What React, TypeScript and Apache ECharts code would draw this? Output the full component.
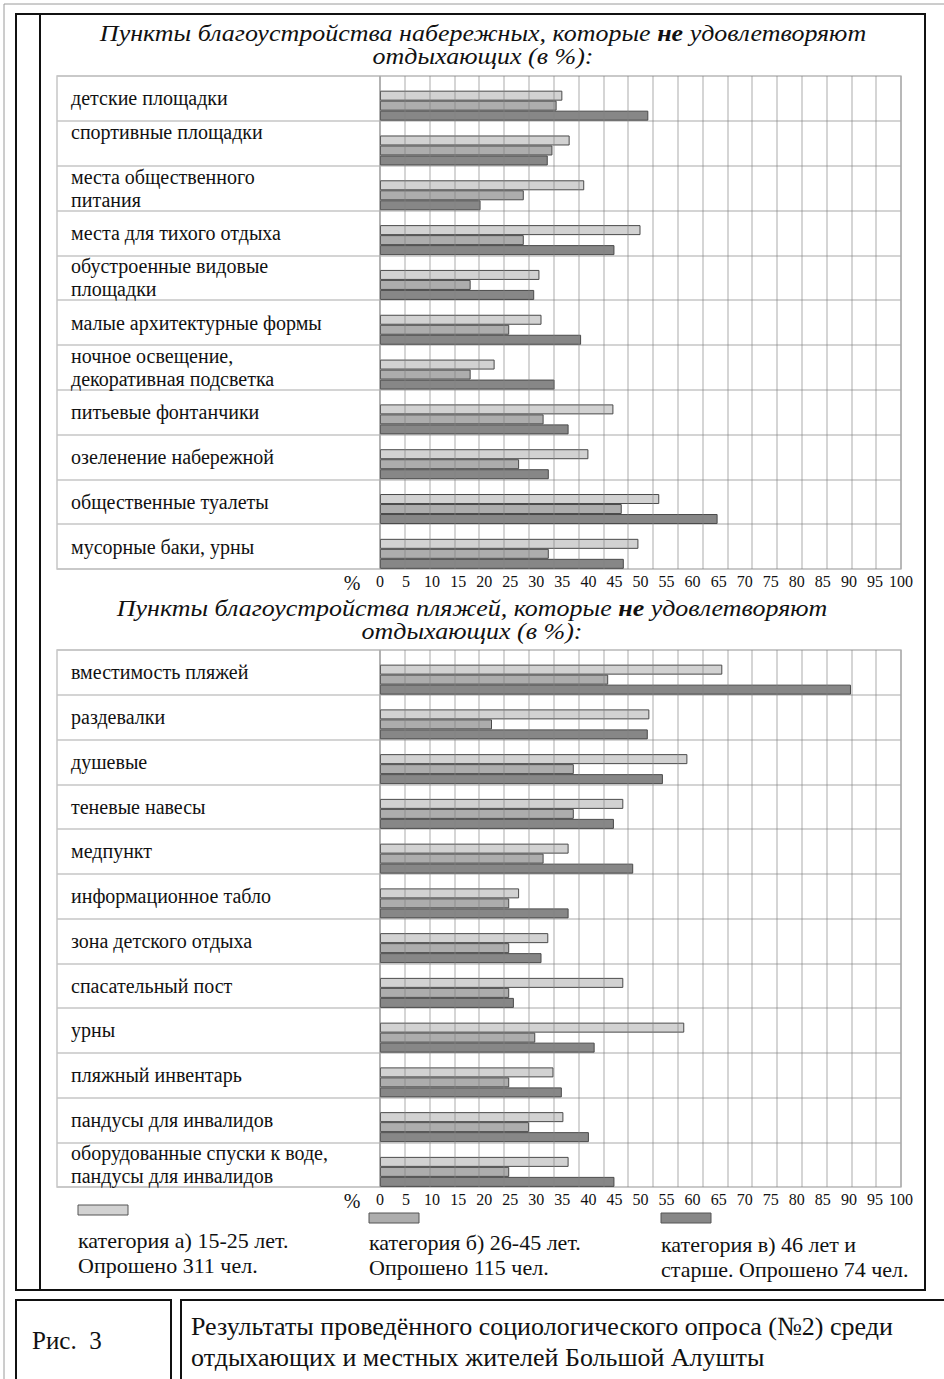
import React, { useEffect, useRef } from "react";
import * as echarts from "echarts";

const topCategories = [
  "детские площадки",
  "спортивные площадки\n ",
  "места общественного\nпитания",
  "места для тихого отдыха",
  "обустроенные видовые\nплощадки",
  "малые архитектурные формы",
  "ночное освещение,\nдекоративная подсветка",
  "питьевые фонтанчики",
  "озеленение набережной",
  "общественные туалеты",
  "мусорные баки, урны",
];
const topA = [35, 36.4, 39.2, 50, 30.6, 31, 22, 44.8, 40, 53.6, 49.6];
const topB = [33.9, 33.1, 27.6, 27.6, 17.4, 24.8, 17.4, 31.4, 26.7, 46.4, 32.4];
const topC = [51.5, 32.2, 19.3, 45, 29.6, 38.6, 33.5, 36.2, 32.4, 64.8, 46.8];

const bottomCategories = [
  "вместимость пляжей",
  "раздевалки",
  "душевые",
  "теневые навесы",
  "медпункт",
  "информационное табло",
  "зона детского отдыха",
  "спасательный пост",
  "урны",
  "пляжный инвентарь",
  "пандусы для инвалидов",
  "оборудованные спуски к воде,\nпандусы для инвалидов",
];
const bottomA = [65.7, 51.7, 59, 46.7, 36.2, 26.7, 32.3, 46.7, 58.4, 33.3, 35.2, 36.2];
const bottomB = [43.8, 21.5, 37.2, 37.2, 31.4, 24.8, 24.8, 24.8, 29.8, 24.8, 28.6, 24.8];
const bottomC = [90.4, 51.4, 54.3, 44.9, 48.6, 36.2, 31, 25.7, 41.2, 34.9, 40.1, 45];

const seriesNames = ["категория а) 15-25 лет.", "категория б) 26-45 лет.", "категория в) 46 лет и"];
const legendLines = [
  "категория а) 15-25 лет.\nОпрошено 311 чел.",
  "категория б) 26-45 лет.\nОпрошено 115 чел.",
  "категория в) 46 лет и\nстарше. Опрошено 74 чел.",
];
const colors = ["#d2d2d2", "#adadad", "#878787"];

const topTitle1a = "Пункты благоустройства набережных, которые ";
const topTitle1b = " удовлетворяют";
const bottomTitle1a = "Пункты благоустройства пляжей, которые ";
const titleLine2 = "отдыхающих (в %):";
const footerLeft = "Рис.  3";
const footerRight =
  "Результаты проведённого социологического опроса (№2) среди\nотдыхающих и местных жителей Большой Алушты";

const SERIF = '"Liberation Serif", "Times New Roman", serif';
const GRID_LINE = "#c6c6c6";

function titleText(x: number, y: number, first: string) {
  return {
    type: "text",
    x,
    y,
    scaleX: 1.13,
    style: {
      text: `{i|${first}}{b|не}{i|${topTitle1b}}\n{i|${titleLine2}}`,
      align: "center",
      verticalAlign: "top",
      fill: "#111",
      rich: {
        i: { fontFamily: SERIF, fontStyle: "italic", fontSize: 23, lineHeight: 23, fill: "#111" },
        b: { fontFamily: SERIF, fontStyle: "italic", fontWeight: "bold", fontSize: 23, lineHeight: 23, fill: "#111" },
      },
    },
  };
}

export default function App() {
  const ref = useRef<HTMLDivElement>(null);
  useEffect(() => {
    if (!ref.current) return;
    const chart = echarts.init(ref.current, null, { renderer: "svg" });

    const labelYAxis = (gridIndex: number, data: string[]) => ({
      type: "category",
      gridIndex,
      data,
      inverse: true,
      axisLine: { show: false },
      axisTick: { show: false },
      axisLabel: {
        inside: true,
        interval: 0,
        margin: 14,
        align: "left",
        fontFamily: SERIF,
        fontSize: 20,
        lineHeight: 23,
        color: "#111",
      },
      splitLine: { show: true, interval: 0, lineStyle: { color: GRID_LINE, width: 1.5 } },
    });
    const barYAxis = (gridIndex: number, data: string[]) => ({
      type: "category",
      gridIndex,
      data,
      inverse: true,
      axisLine: { show: false },
      axisTick: { show: false },
      axisLabel: { show: false },
      splitLine: { show: true, interval: 0, lineStyle: { color: GRID_LINE, width: 1.5 } },
    });
    const hiddenX = (gridIndex: number) => ({ type: "value", gridIndex, show: false, min: 0, max: 1 });
    const valueX = (gridIndex: number) => ({
      type: "value",
      gridIndex,
      min: 0,
      max: 100,
      interval: 5,
      position: "bottom",
      axisLine: { show: false },
      axisTick: { show: false },
      splitLine: { show: false },
      axisLabel: { fontFamily: SERIF, fontSize: 16, color: "#111", margin: 4, showMaxLabel: true },
    });
    const gridX = (gridIndex: number) => ({
      type: "value",
      gridIndex,
      min: 0,
      max: 21,
      interval: 1,
      position: "bottom",
      z: 3,
      axisLine: { show: false },
      axisTick: { show: false },
      axisLabel: { show: false },
      splitLine: { show: true, lineStyle: { color: "rgba(130,130,130,0.45)", width: 1.5 } },
    });

    const barSeries = (xi: number, yi: number, vals: number[][]) => [
      {
        type: "bar",
        name: "spacer",
        xAxisIndex: xi,
        yAxisIndex: yi,
        data: [],
        barWidth: 14.5,
        barGap: "0%",
        silent: true,
        itemStyle: { color: "rgba(0,0,0,0)" },
      },
      ...vals.map((v, i) => ({
        type: "bar",
        name: seriesNames[i],
        xAxisIndex: xi,
        yAxisIndex: yi,
        data: v,
        barWidth: 10,
        barGap: "0%",
        itemStyle: { color: colors[i], borderColor: "#4a4a4a", borderWidth: 1 },
      })),
    ];

    const legendGraphics: any[] = [];
    const legendPos = [
      [78, 1205, 1228],
      [369, 1213, 1230],
      [661, 1213, 1232],
    ];
    legendPos.forEach(([x, ry, ty], i) => {
      legendGraphics.push({
        type: "rect",
        shape: { x, y: ry, width: 50, height: 10 },
        style: { fill: colors[i], stroke: "#555", lineWidth: 1 },
      });
      legendGraphics.push({
        type: "text",
        x,
        y: ty,
        style: {
          text: legendLines[i],
          fontFamily: SERIF,
          fontSize: 22,
          lineHeight: 25,
          fill: "#111",
          verticalAlign: "top",
        },
      });
    });

    chart.setOption({
      animation: false,
      backgroundColor: "#fff",
      grid: [
        { left: 57, top: 76, width: 323, height: 493, show: true, borderColor: GRID_LINE, borderWidth: 1.5 },
        { left: 380, top: 76, width: 521, height: 493, show: true, borderColor: GRID_LINE, borderWidth: 1.5 },
        { left: 57, top: 650, width: 323, height: 537, show: true, borderColor: GRID_LINE, borderWidth: 1.5 },
        { left: 380, top: 650, width: 521, height: 537, show: true, borderColor: GRID_LINE, borderWidth: 1.5 },
      ],
      xAxis: [hiddenX(0), valueX(1), gridX(1), hiddenX(2), valueX(3), gridX(3)],
      yAxis: [
        labelYAxis(0, topCategories),
        barYAxis(1, topCategories),
        labelYAxis(2, bottomCategories),
        barYAxis(3, bottomCategories),
      ],
      series: [
        ...barSeries(1, 1, [topA, topB, topC]),
        ...barSeries(4, 3, [bottomA, bottomB, bottomC]),
      ],
      graphic: [
        { type: "line", shape: { x1: 4, y1: 4, x2: 944, y2: 4 }, style: { stroke: "#9a9a9a", lineWidth: 1 } },
        { type: "line", shape: { x1: 4, y1: 4, x2: 4, y2: 1379 }, style: { stroke: "#9a9a9a", lineWidth: 1 } },
        { type: "rect", shape: { x: 16, y: 14, width: 909, height: 1276 }, style: { fill: "none", stroke: "#111", lineWidth: 2 } },
        { type: "line", shape: { x1: 40, y1: 14, x2: 40, y2: 1290 }, style: { stroke: "#111", lineWidth: 2 } },
        { type: "rect", shape: { x: 16, y: 1300, width: 155, height: 100 }, style: { fill: "none", stroke: "#111", lineWidth: 2 } },
        { type: "rect", shape: { x: 181, y: 1300, width: 800, height: 100 }, style: { fill: "none", stroke: "#111", lineWidth: 2 } },
        titleText(483, 22, topTitle1a),
        titleText(472, 597, bottomTitle1a),
        { type: "text", x: 352, y: 583, style: { text: "%", fontFamily: SERIF, fontSize: 20, fill: "#111", align: "center", verticalAlign: "middle" } },
        { type: "text", x: 352, y: 1201, style: { text: "%", fontFamily: SERIF, fontSize: 20, fill: "#111", align: "center", verticalAlign: "middle" } },
        ...legendGraphics,
        { type: "text", x: 32, y: 1340, style: { text: footerLeft, fontFamily: SERIF, fontSize: 25, fill: "#111", verticalAlign: "middle" } },
        { type: "text", x: 191, y: 1311, style: { text: footerRight, fontFamily: SERIF, fontSize: 26, lineHeight: 31, fill: "#111", verticalAlign: "top" } },
      ],
    });
    return () => chart.dispose();
  }, []);
  return <div ref={ref} style={{ position: "absolute", left: 0, top: 0, width: 944, height: 1379 }} />;
}
